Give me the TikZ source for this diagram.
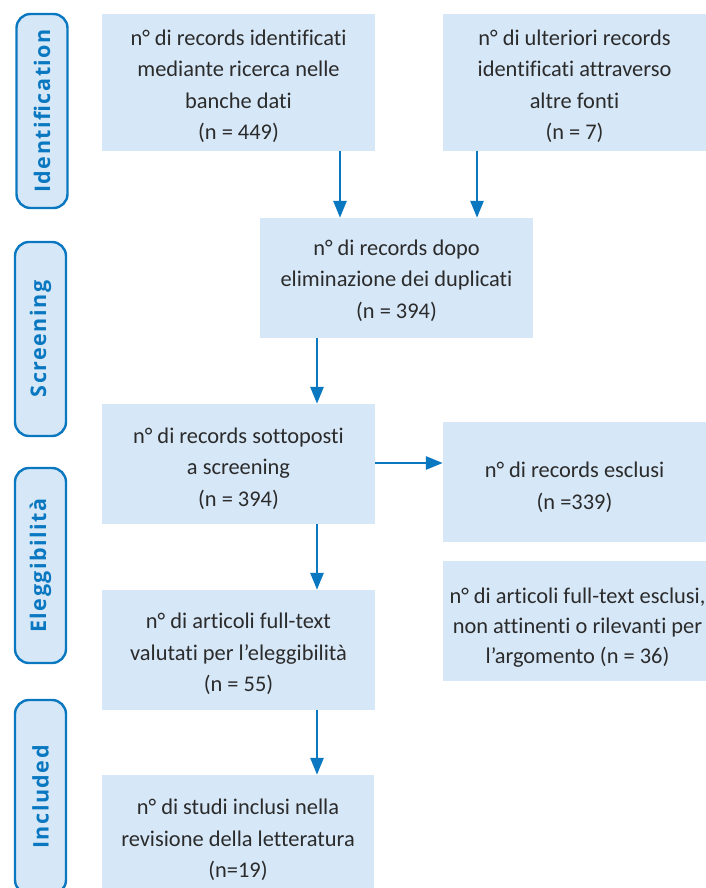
\documentclass[tikz,border=0pt]{standalone}
\usepackage{fontspec}
\setmainfont{Carlito}[Ligatures=NoCommon]
\newfontfamily\labelfont[LetterSpace=7]{Open Sans Bold}
\usetikzlibrary{arrows.meta}
\definecolor{boxfill}{HTML}{D6E7F7}
\definecolor{flowblue}{HTML}{0A78C0}
\definecolor{txt}{HTML}{2B2B2B}
\tikzset{
  x=1pt, y=-1pt,
  box/.style={fill=boxfill, draw=none, inner sep=0pt},
  boxtext/.style={inner sep=0pt, align=center, text=txt,
    font=\fontsize{22.4}{31.5}\selectfont},
  phase/.style={draw=flowblue, line width=2.4pt, fill=boxfill, rounded corners=14pt,
    rotate=90, minimum height=51pt, inner sep=0pt, text=flowblue,
    font=\labelfont\fontsize{21.5}{24}\selectfont},
  arr/.style={draw=flowblue, line width=2.8pt, -{Triangle[width=13pt,length=17pt]}},
}
\begin{document}
\begin{tikzpicture}
\useasboundingbox (0,0) rectangle (706,888);
\fill[white] (0,0) rectangle (706,888);
% phase labels
\node[phase, minimum width=194pt] (p1) at (42,111) {Identification};
\node[phase, minimum width=194pt] (p2) at (40.5,339) {Screening};
\node[phase, minimum width=195pt] (p3) at (40.5,565.5) {Eleggibilità};
\node[phase, minimum width=194pt] (p4) at (40.5,797) {Included};
% boxes
\node[box, minimum width=273pt, minimum height=137pt] (A) at (238.5,82.5) {};
\node[box, minimum width=263pt, minimum height=137pt] (B) at (574.5,82.5) {};
\node[box, minimum width=273pt, minimum height=120pt] (C) at (396.5,278) {};
\node[box, minimum width=273pt, minimum height=120pt] (D) at (238.5,464) {};
\node[box, minimum width=263pt, minimum height=120pt] (E) at (574.5,482) {};
\node[box, minimum width=263pt, minimum height=120pt] (F) at (574.5,621) {};
\node[box, minimum width=273pt, minimum height=120pt] (G) at (238.5,650) {};
\node[box, minimum width=272pt, minimum height=120pt] (H) at (238,835) {};
% texts
\node[boxtext] (At) at ([yshift=-4pt]A.center)
  {n° di records identificati\\mediante ricerca nelle\\banche dati\\(n = 449)};
\node[boxtext] (Bt) at ([yshift=-4pt]B.center)
  {n° di ulteriori records\\identificati attraverso\\altre fonti\\(n = 7)};
\node[boxtext] (Ct) at ([yshift=-2.5pt]C.center)
  {n° di records dopo\\eliminazione dei duplicati\\(n = 394)};
\node[boxtext] (Dt) at ([yshift=-4.5pt]D.center)
  {n° di records sottoposti\\a screening\\(n = 394)};
\node[boxtext] (Et) at ([yshift=-5.5pt]E.center)
  {n° di records esclusi\\(n =339)};
\node[boxtext, font=\fontsize{22.4}{30}\selectfont] (Ft) at ([yshift=-6.5pt,xshift=3pt]F.center)
  {n° di articoli full-text esclusi,\\non attinenti o rilevanti per\\l’argomento (n = 36)};
\node[boxtext] (Gt) at ([yshift=-4pt]G.center)
  {n° di articoli full-text\\valutati per l’eleggibilità\\(n = 55)};
\node[boxtext] (Ht) at ([yshift=-5pt]H.center)
  {n° di studi inclusi nella\\revisione della letteratura\\(n=19)};
% arrows
\draw[arr] ([xshift=101.5pt]A.south) -- ([xshift=101.5pt]A.south |- C.north);
\draw[arr] ([xshift=-97.5pt]B.south) -- ([xshift=-97.5pt]B.south |- C.north);
\draw[arr] ([xshift=-79.5pt]C.south) -- ([xshift=-79.5pt]C.south |- D.north);
\draw[arr] ([yshift=1pt]D.east) -- ([yshift=1pt]D.east -| E.west);
\draw[arr] ([xshift=78.5pt]D.south) -- ([xshift=78.5pt]D.south |- G.north);
\draw[arr] ([xshift=78.5pt]G.south) -- ([xshift=78.5pt]G.south |- H.north);
\end{tikzpicture}
\end{document}
